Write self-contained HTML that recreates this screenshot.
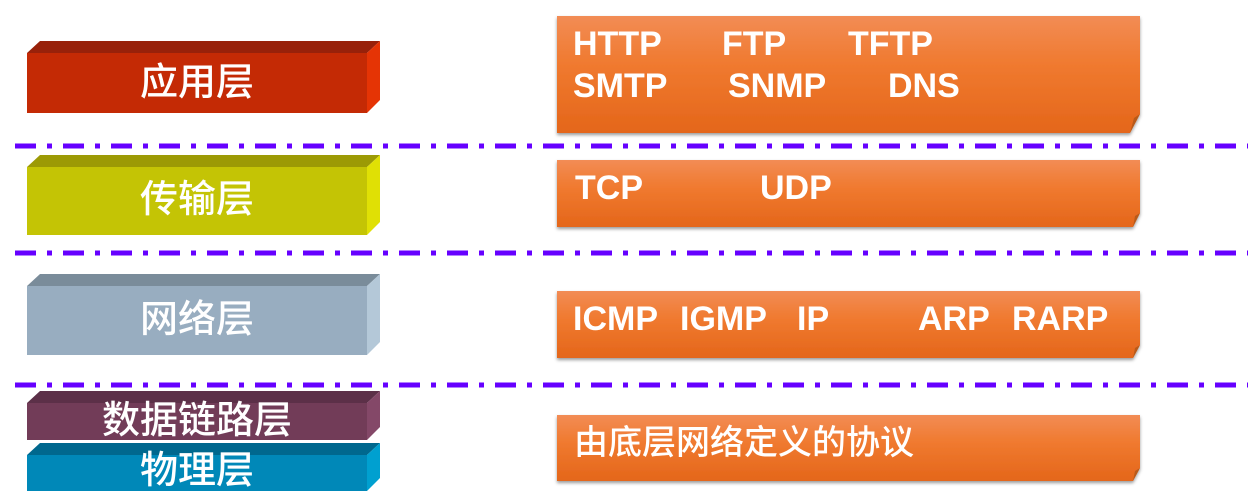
<!DOCTYPE html>
<html><head><meta charset="utf-8"><style>
html,body{margin:0;padding:0;background:#fff;width:1259px;height:504px;overflow:hidden;position:relative}
.t{position:absolute;color:#fff;font-family:"Liberation Sans",sans-serif;font-weight:bold;font-size:34px;line-height:1;white-space:nowrap}
.c{position:absolute;color:#fff;font-family:"Liberation Sans","Noto Sans CJK SC",sans-serif;font-weight:500;font-size:38px;line-height:1;white-space:nowrap;text-align:center;width:340px;left:27px}
</style></head><body>
<svg width="1259" height="504" style="position:absolute;left:0;top:0">
<defs>
<linearGradient id="og" x1="0" y1="0" x2="0" y2="1"><stop offset="0" stop-color="#f28c55"/><stop offset="0.4" stop-color="#f07a30"/><stop offset="1" stop-color="#e4661a"/></linearGradient>
<filter id="sh"><feDropShadow dx="0" dy="2" stdDeviation="1.5" flood-color="#000" flood-opacity="0.4"/></filter>
</defs>
<g>
<polygon points="27,53 40,41 380,41 367,53" fill="#98210a"/><rect x="27" y="53" width="340" height="60" fill="#c42a05"/><polygon points="367,53 380,41 380,100 367,113" fill="#e53405"/>
<polygon points="27,167 40,155 380,155 367,167" fill="#9c9a05"/><rect x="27" y="167" width="340" height="68" fill="#c4c405"/><polygon points="367,167 380,155 380,222 367,235" fill="#e0e005"/>
<polygon points="27,286 40,274 380,274 367,286" fill="#7a8c9a"/><rect x="27" y="286" width="340" height="69" fill="#98adc0"/><polygon points="367,286 380,274 380,342 367,355" fill="#b4c8d8"/>
<polygon points="27,403 40,391 380,391 367,403" fill="#5c3048"/><rect x="27" y="403" width="340" height="37" fill="#723c58"/><polygon points="367,403 380,391 380,427 367,440" fill="#844868"/>
<polygon points="27,455 40,443 380,443 367,455" fill="#00688e"/><rect x="27" y="455" width="340" height="36" fill="#0088b8"/><polygon points="367,455 380,443 380,478 367,491" fill="#00a0d0"/>
</g>
<g filter="url(#sh)">
<polygon points="557,16 1140,16 1140,114 1130,133 557,133" fill="url(#og)"/>
<polygon points="557,160 1140,160 1140,213 1133,227 557,227" fill="url(#og)"/>
<polygon points="557,291 1140,291 1140,345 1133,358 557,358" fill="url(#og)"/>
<polygon points="557,415 1140,415 1140,468 1133,481 557,481" fill="url(#og)"/>
</g>
<polygon points="1130,133 1134,118 1140,114" fill="#b85a1a"/>
<polygon points="1133,227 1135,216 1140,213" fill="#b85a1a"/>
<polygon points="1133,358 1135,348 1140,345" fill="#b85a1a"/>
<polygon points="1133,481 1135,471 1140,468" fill="#b85a1a"/>
<g stroke="#6600ff" stroke-width="5" stroke-dasharray="21 11 5 11">
<line x1="15" y1="146" x2="1248" y2="146"/>
<line x1="15" y1="253" x2="1248" y2="253"/>
<line x1="15" y1="385" x2="1248" y2="385"/>
</g>
</svg>
<div class="c" style="top:64px">应用层</div>
<div class="c" style="top:181px">传输层</div>
<div class="c" style="top:301px">网络层</div>
<div class="c" style="top:402px">数据链路层</div>
<div class="c" style="top:452px">物理层</div>
<div class="t" style="left:573px;top:27px">HTTP</div>
<div class="t" style="left:722px;top:27px">FTP</div>
<div class="t" style="left:848px;top:27px">TFTP</div>
<div class="t" style="left:573px;top:69px">SMTP</div>
<div class="t" style="left:728px;top:69px">SNMP</div>
<div class="t" style="left:888px;top:69px">DNS</div>
<div class="t" style="left:575px;top:171px">TCP</div>
<div class="t" style="left:760px;top:171px">UDP</div>
<div class="t" style="left:573px;top:302px">ICMP</div>
<div class="t" style="left:680px;top:302px">IGMP</div>
<div class="t" style="left:797px;top:302px">IP</div>
<div class="t" style="left:918px;top:302px">ARP</div>
<div class="t" style="left:1012px;top:302px">RARP</div>
<div class="t" style="left:574px;top:426px;font-size:34px;font-weight:500;font-family:'Liberation Sans','Noto Sans CJK SC',sans-serif">由底层网络定义的协议</div>
</body></html>
